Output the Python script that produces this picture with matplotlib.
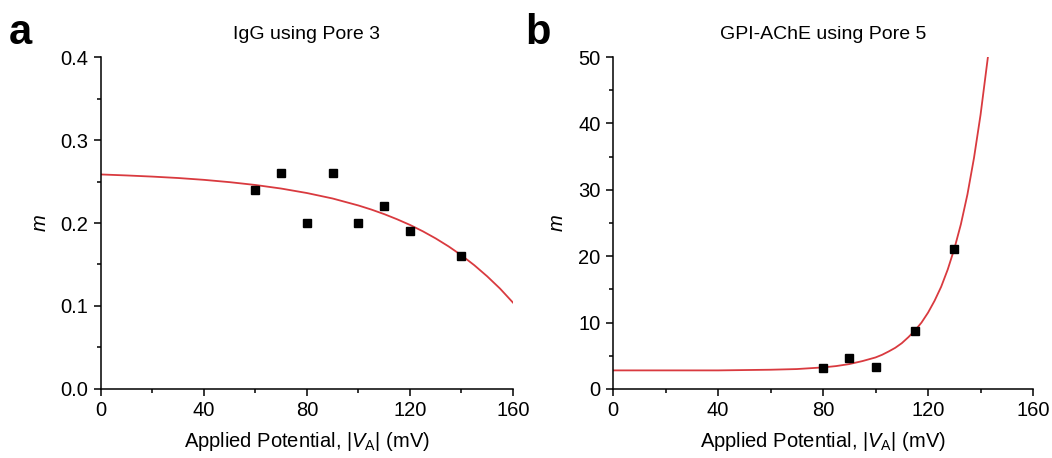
import matplotlib
matplotlib.use("Agg")
import matplotlib.pyplot as plt
from matplotlib.ticker import MultipleLocator, FormatStrFormatter

plt.rcParams['font.family'] = ['Liberation Sans', 'DejaVu Sans']
plt.rcParams['mathtext.fontset'] = 'custom'
plt.rcParams['mathtext.rm'] = 'Liberation Sans'
plt.rcParams['mathtext.it'] = 'Liberation Sans:italic'

# Panel a: IgG using Pore 3
a_x = [60, 70, 80, 90, 100, 110, 120, 140]
a_m = [0.24, 0.26, 0.20, 0.26, 0.20, 0.22, 0.19, 0.16]
a_fit_x = [0, 10, 20, 30, 40, 50, 60, 70, 80, 90, 100, 105, 110, 115, 120, 125, 130,
           135, 140, 145, 150, 155, 160]
a_fit_m = [0.2585, 0.2573, 0.2559, 0.2542, 0.2520, 0.2492, 0.2458, 0.2415, 0.2361,
           0.2295, 0.2211, 0.2162, 0.2107, 0.2045, 0.1977, 0.1900, 0.1814,
           0.1718, 0.1611, 0.1491, 0.1357, 0.1209, 0.1041]

# Panel b: GPI-AChE using Pore 5
b_x = [80, 90, 100, 115, 130]
b_m = [3.1, 4.7, 3.3, 8.8, 21.1]
b_fit_x = [0, 20, 40, 60, 70, 80, 85, 90, 95, 100, 102.5, 105, 107.5, 110, 112.5,
           115, 117.5, 120, 122.5, 125, 127.5, 130, 132.5, 135, 137.5, 140, 142.8]
b_fit_m = [2.8, 2.8, 2.8, 2.9, 3.0, 3.25, 3.45, 3.75, 4.2, 4.75, 5.15, 5.65, 6.2,
           6.9, 7.8, 8.8, 10.0, 11.5, 13.3, 15.4, 18.0, 21.1, 24.8, 29.3, 34.8,
           41.3, 50.0]

titles = ["IgG using Pore 3", "GPI-AChE using Pore 5"]
letters = ["a", "b"]
xlabel = r"Applied Potential, |$V_{\rm A}$| (mV)"

fig = plt.figure(figsize=(10.52, 4.58), dpi=100)
ax1 = fig.add_axes([0.096, 0.1507, 0.3916, 0.7248])
ax2 = fig.add_axes([0.5827, 0.1507, 0.3993, 0.7248])

red = '#d93a3f'
for ax, x, m, fx, fm, title in [(ax1, a_x, a_m, a_fit_x, a_fit_m, titles[0]),
                                (ax2, b_x, b_m, b_fit_x, b_fit_m, titles[1])]:
    ax.plot(fx, fm, color=red, lw=1.3, zorder=2)
    ax.plot(x, m, 's', color='black', ms=6, zorder=3)
    ax.spines['top'].set_visible(False)
    ax.spines['right'].set_visible(False)
    for s in ['left', 'bottom']:
        ax.spines[s].set_linewidth(1.1)
    ax.set_xlim(0, 160)
    ax.xaxis.set_major_locator(MultipleLocator(40))
    ax.xaxis.set_minor_locator(MultipleLocator(20))
    ax.tick_params(which='major', direction='out', length=5, width=1.1, labelsize=14.5, pad=4)
    ax.tick_params(which='minor', direction='out', length=3, width=1.1)
    ax.set_xlabel(xlabel, fontsize=14.5, labelpad=7)
    ax.set_ylabel('m', fontsize=14.5, style='italic', labelpad=8)
    ax.set_title(title, fontsize=14, pad=13)

ax1.set_ylim(0, 0.4)
ax1.yaxis.set_major_locator(MultipleLocator(0.1))
ax1.yaxis.set_minor_locator(MultipleLocator(0.05))
ax1.yaxis.set_major_formatter(FormatStrFormatter('%.1f'))

ax2.set_ylim(0, 50)
ax2.yaxis.set_major_locator(MultipleLocator(10))
ax2.yaxis.set_minor_locator(MultipleLocator(5))

fig.text(0.008, 0.905, letters[0], fontsize=30, fontweight='bold')
fig.text(0.499, 0.905, letters[1], fontsize=30, fontweight='bold')

fig.savefig('out.png', dpi=100)
